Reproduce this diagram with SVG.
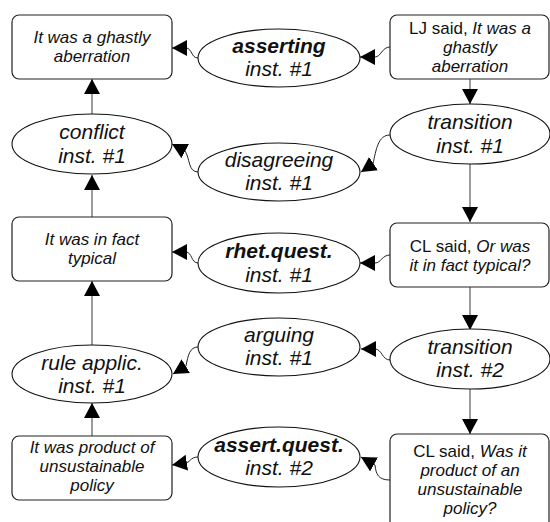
<svg xmlns="http://www.w3.org/2000/svg" width="550" height="522" viewBox="0 0 550 522">
<defs>
<style>
.box{fill:#fff;stroke:#222;stroke-width:1.2}
.ell{fill:#fff;stroke:#111;stroke-width:1.1}
.bt{font-family:"Liberation Sans",Arial,sans-serif;font-size:17px;fill:#111;text-anchor:middle;font-style:italic}
.et{font-family:"Liberation Sans",Arial,sans-serif;font-size:21px;fill:#111;text-anchor:middle;font-style:italic}
.n{font-style:normal}
.b{font-weight:bold}
.v{stroke:#666;stroke-width:1.3;fill:none}
.c{stroke:#222;stroke-width:1;fill:none}
</style>
<marker id="ah" markerUnits="userSpaceOnUse" markerWidth="16" markerHeight="17" refX="15" refY="8" orient="auto" viewBox="0 0 16 17">
<path d="M0,0 L15,8 L0,16 z" fill="#000"/>
</marker>
</defs>

<g id="connectors">
<path class="v" d="M92,114 L92,79" marker-end="url(#ah)"/>
<path class="v" d="M92,217 L92,175" marker-end="url(#ah)"/>
<path class="v" d="M92,345 L92,281" marker-end="url(#ah)"/>
<path class="v" d="M92,436 L92,403" marker-end="url(#ah)"/>
<path class="v" d="M470,79 L470,104" marker-end="url(#ah)"/>
<path class="v" d="M470,164 L470,222" marker-end="url(#ah)"/>
<path class="v" d="M470,287 L470,330" marker-end="url(#ah)"/>
<path class="v" d="M470,389 L470,434" marker-end="url(#ah)"/>
<path class="c" d="M390,47 C382,47 381,57 375,57 L360,57" marker-end="url(#ah)"/>
<path class="c" d="M198,58 C191,58 192,48 186,48 L172,48" marker-end="url(#ah)"/>
<path class="c" d="M390,135 C378,135 376,150 373,164 L361,172" marker-end="url(#ah)"/>
<path class="c" d="M198,172 C188,172 190,158 185,151 L172,144" marker-end="url(#ah)"/>
<path class="c" d="M390,255 C382,255 381,263 375,263 L360,263" marker-end="url(#ah)"/>
<path class="c" d="M198,263 C191,263 192,252 186,252 L172,252" marker-end="url(#ah)"/>
<path class="c" d="M390,360 C382,360 382,349 375,349 L361,349" marker-end="url(#ah)"/>
<path class="c" d="M198,347 C190,347 188,355 186,366 L173,374" marker-end="url(#ah)"/>
<path class="c" d="M390,480 C378,480 376,474 375,465 L361,457" marker-end="url(#ah)"/>
<path class="c" d="M198,457 C190,457 190,463 185,463 L172,465" marker-end="url(#ah)"/>
</g>

<g id="n-ghastly">
<rect class="box" x="12" y="15" width="160" height="64" rx="7"/>
<text class="bt" x="92" y="43">It was a ghastly</text>
<text class="bt" x="92" y="62">aberration</text>
</g>

<g id="n-asserting">
<ellipse class="ell" cx="279" cy="58" rx="81" ry="29"/>
<text class="et b" x="279" y="53">asserting</text>
<text class="et" x="279" y="76">inst. #1</text>
</g>

<g id="n-lj">
<rect class="box" x="390" y="15" width="159" height="64" rx="7"/>
<text class="bt" x="470" y="34"><tspan class="n">LJ said, </tspan>It was a</text>
<text class="bt" x="470" y="53">ghastly</text>
<text class="bt" x="470" y="72">aberration</text>
</g>

<g id="n-conflict">
<ellipse class="ell" cx="92" cy="144" rx="80" ry="30"/>
<text class="et" x="92" y="139">conflict</text>
<text class="et" x="92" y="163">inst. #1</text>
</g>

<g id="n-disagreeing">
<ellipse class="ell" cx="279" cy="172" rx="81" ry="29"/>
<text class="et" x="279" y="167">disagreeing</text>
<text class="et" x="279" y="190">inst. #1</text>
</g>

<g id="n-transition1">
<ellipse class="ell" cx="470" cy="134" rx="80" ry="30"/>
<text class="et" x="470" y="129">transition</text>
<text class="et" x="470" y="153">inst. #1</text>
</g>

<g id="n-typical">
<rect class="box" x="12" y="217" width="160" height="64" rx="7"/>
<text class="bt" x="92" y="245">It was in fact</text>
<text class="bt" x="92" y="264">typical</text>
</g>

<g id="n-rhet">
<ellipse class="ell" cx="279" cy="263" rx="81" ry="30"/>
<text class="et b" x="279" y="258">rhet.quest.</text>
<text class="et" x="279" y="282">inst. #1</text>
</g>

<g id="n-cl1">
<rect class="box" x="390" y="223" width="159" height="64" rx="7"/>
<text class="bt" x="470" y="252"><tspan class="n">CL said, </tspan>Or was</text>
<text class="bt" x="470" y="271">it in fact typical?</text>
</g>

<g id="n-rule">
<ellipse class="ell" cx="92" cy="374" rx="80" ry="29"/>
<text class="et" x="92" y="370">rule applic.</text>
<text class="et" x="92" y="393">inst. #1</text>
</g>

<g id="n-arguing">
<ellipse class="ell" cx="279" cy="347" rx="81" ry="29"/>
<text class="et" x="279" y="342">arguing</text>
<text class="et" x="279" y="365">inst. #1</text>
</g>

<g id="n-transition2">
<ellipse class="ell" cx="470" cy="359" rx="80" ry="30"/>
<text class="et" x="470" y="354">transition</text>
<text class="et" x="470" y="377">inst. #2</text>
</g>

<g id="n-product">
<rect class="box" x="12" y="436" width="160" height="64" rx="7"/>
<text class="bt" x="92" y="453">It was product of</text>
<text class="bt" x="92" y="472">unsustainable</text>
<text class="bt" x="92" y="491">policy</text>
</g>

<g id="n-assertquest">
<ellipse class="ell" cx="279" cy="457" rx="81" ry="30"/>
<text class="et b" x="279" y="452">assert.quest.</text>
<text class="et" x="279" y="475">inst. #2</text>
</g>

<g id="n-cl2">
<rect class="box" x="390" y="434" width="159" height="98" rx="7"/>
<text class="bt" x="470" y="457"><tspan class="n">CL said, </tspan>Was it</text>
<text class="bt" x="470" y="476">product of an</text>
<text class="bt" x="470" y="495">unsustainable</text>
<text class="bt" x="470" y="514">policy?</text>
</g>
</svg>
